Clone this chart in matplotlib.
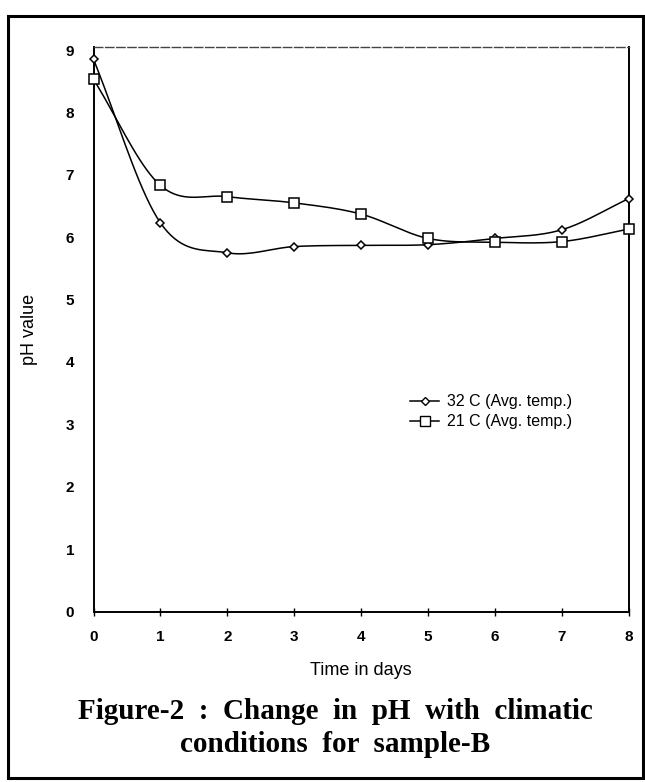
import numpy as np
import matplotlib
matplotlib.use("Agg")
import matplotlib.pyplot as plt
from matplotlib.lines import Line2D
from matplotlib.patches import Rectangle

# data
days = [0, 1, 2, 3, 4, 5, 6, 7, 8]
ph_32c = [8.85, 6.23, 5.75, 5.85, 5.87, 5.88, 5.98, 6.12, 6.62]
ph_21c = [8.53, 6.83, 6.65, 6.55, 6.37, 5.98, 5.92, 5.93, 6.13]
labels = ["32 C (Avg. temp.)", "21 C (Avg. temp.)"]


def smooth(x, y, n=20):
    """Catmull-Rom curve through the points (like Excel smoothed lines)"""
    x = np.asarray(x, float)
    y = np.asarray(y, float)
    px = np.concatenate([[2 * x[0] - x[1]], x, [2 * x[-1] - x[-2]]])
    py = np.concatenate([[2 * y[0] - y[1]], y, [2 * y[-1] - y[-2]]])
    t = np.linspace(0, 1, n)
    xs, ys = [], []
    for i in range(1, len(px) - 2):
        for p, out in ((px, xs), (py, ys)):
            p0, p1, p2, p3 = p[i - 1], p[i], p[i + 1], p[i + 2]
            out.append(0.5 * ((2 * p1) + (-p0 + p2) * t
                              + (2 * p0 - 5 * p1 + 4 * p2 - p3) * t ** 2
                              + (-p0 + 3 * p1 - 3 * p2 + p3) * t ** 3))
    return np.concatenate(xs), np.concatenate(ys)


fig = plt.figure(figsize=(6.45, 7.82), dpi=100)
ax = fig.add_axes([0.145, 0.218, 0.83, 0.722])

for y, mk, ms in ((ph_32c, "D", 4.5), (ph_21c, "s", 7)):
    sx, sy = smooth(days, y)
    ax.plot(sx, sy, color="black", lw=1.1, zorder=2)
    ax.plot(days, y, linestyle="none", marker=mk, ms=ms, mfc="white",
            mec="black", mew=1.1, zorder=3, clip_on=False)

ax.set_xlim(0, 8)
ax.set_ylim(0, 9.05)
ax.set_xticks(range(0, 9))
ax.set_yticks(range(0, 10))
ax.tick_params(axis="x", direction="inout", length=6, width=1, pad=10,
               labelsize=11)
ax.tick_params(axis="y", length=0, pad=14, labelsize=11)
for lab in ax.get_xticklabels() + ax.get_yticklabels():
    lab.set_fontweight("bold")
    lab.set_family("Liberation Sans")
for side in ["left", "bottom", "right"]:
    ax.spines[side].set_linewidth(1.4)
ax.spines["top"].set_linewidth(1.0)
ax.spines["top"].set_linestyle((0, (6, 2)))
ax.spines["top"].set_color("#444444")

ax.set_xlabel("Time in days", fontsize=13, family="Liberation Sans", labelpad=13)
ax.set_ylabel("pH value", fontsize=13, family="Liberation Sans", labelpad=20)

handles = [
    Line2D([], [], color="black", lw=1.1, marker="D", ms=4.5, mfc="white", mec="black"),
    Line2D([], [], color="black", lw=1.1, marker="s", ms=7, mfc="white", mec="black"),
]
leg = ax.legend(handles, labels, loc="upper left", bbox_to_anchor=(0.565, 0.41),
                frameon=False, handlelength=1.8, handletextpad=0.5,
                labelspacing=0.3, prop={"family": "Liberation Sans", "size": 11.5})

fig.text(0.52, 0.069, "Figure-2  :  Change  in  pH  with  climatic\nconditions  for  sample-B",
         ha="center", va="center", fontsize=21, fontweight="bold",
         family="Liberation Serif", linespacing=1.3)

# outer frame round the whole figure
fig.patches.append(Rectangle((0.013, 0.005), 0.984, 0.975, transform=fig.transFigure,
                             fill=False, lw=2.2, edgecolor="black"))

fig.savefig("out.png", dpi=100, facecolor="white")
